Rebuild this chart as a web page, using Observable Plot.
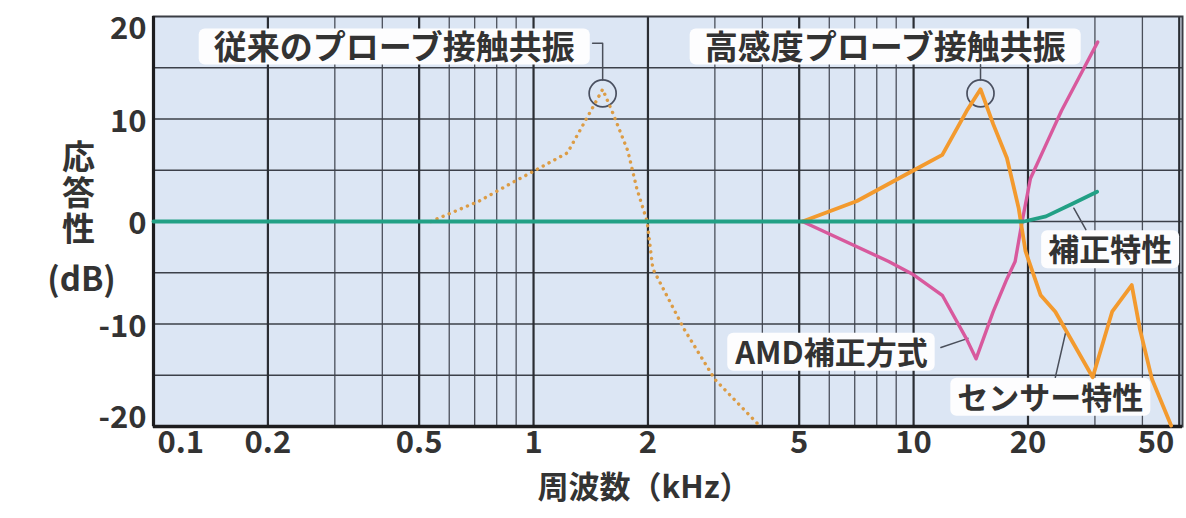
<!DOCTYPE html>
<html>
<head>
<meta charset="utf-8">
<script src="https://cdn.jsdelivr.net/npm/d3@7"></script>
<script src="https://cdn.jsdelivr.net/npm/@observablehq/plot@0.6"></script>
<style>
  html, body { margin: 0; padding: 0; background: #ffffff; }
  svg { display: block; }
</style>
</head>
<body>
<div id="chart"></div>
<script>
// ---- Axis ticks ----
const freqMajor = [0.1, 0.2, 0.5, 1, 2, 5, 10, 20, 50];
const freqLabels = ["0.1", "0.2", "0.5", "1", "2", "5", "10", "20", "50"];
const freqMinor = [0.3, 0.4, 0.6, 0.7, 0.8, 0.9, 3, 4, 6, 7, 8, 9, 30, 40];
const dbTicks = [20, 10, 0, -10, -20];
const dbLabels = ["20", "10", "0", "-10", "-20"];
const dbGrid = [-15, -10, -5, 0, 5, 10, 15];

// ---- Series ----
// 補正特性 (green)
const corrF  = [0.1, 5, 10, 19.5, 22.3, 26.1, 30.4];
const corrDb = [0, 0, 0, 0, 0.5, 1.7, 2.9];
// センサー特性 / 高感度プローブ (orange solid)
const sensF  = [5.1, 7.1, 9.9, 11.9, 13.8, 15.0, 16.2, 17.6, 18.9, 19.7, 21.6, 23.6, 29.6, 33.3, 37.5, 39.4, 42.4, 47.6];
const sensDb = [0, 2.0, 4.9, 6.5, 10.8, 12.9, 9.5, 6.2, 1.3, -2.9, -7.2, -8.8, -15.2, -8.8, -6.2, -10.5, -15.4, -19.9];
// AMD補正方式 (pink)
const amdF  = [5.1, 8.6, 10.0, 11.9, 13.8, 14.6, 16.2, 17.6, 18.5, 19.3, 20.3, 22.3, 24.5, 27.2, 30.5];
const amdDb = [0, -3.9, -5.2, -7.2, -11.5, -13.4, -8.8, -5.6, -3.9, 0, 4.2, 7.5, 10.8, 14.0, 17.5];
// 従来のプローブ接触共振 (dotted)
const convF  = [0.537, 0.72, 0.89, 1.0, 1.228, 1.43, 1.52, 1.62, 1.77, 1.87, 1.99, 2.06, 2.49, 3.0, 3.95];
const convDb = [0, 2.0, 3.9, 4.9, 6.7, 11.1, 12.9, 10.5, 6.9, 3.2, 0, -4.6, -10.5, -15.4, -20];

// ---- Annotations ----
const topLabels = ["従来のプローブ接触共振", "高感度プローブ接触共振"];
const topLabelF = [0.43, 8.42];
const topLabelDb = [16.9, 16.9];
const sideLabels = ["補正特性", "AMD補正方式", "センサー特性"];
const sideLabelF = [32.9, 6.08, 22.9];
const sideLabelDb = [-2.9, -12.9, -17.3];
const peakF = [1.52, 15.0];
const peakDb = [12.5, 12.5];
// leader lines: id, f, db
const leaderId = [0, 0, 0, 1, 1, 2, 2, 3, 3, 4, 4];
const leaderF  = [1.43, 1.52, 1.52, 15.0, 15.0, 26.4, 28.4, 11.8, 13.9, 23.6, 25.1];
const leaderDb = [17.4, 17.4, 13.8, 15.3, 13.8, 1.3, -0.8, -12.3, -11.4, -15.2, -10.9];

const rows = (fs, ds) => fs.map((f, i) => ({f, db: ds[i]}));
const font = "'Noto Sans CJK JP', 'Noto Sans', sans-serif";
const textCol = "#333333";

const xTicks = freqMajor.map((f, i) => ({f, label: freqLabels[i]}));
const yTicks = dbTicks.map((db, i) => ({db, label: dbLabels[i]}));

const plot = Plot.plot({
  width: 1186,
  height: 518,
  marginLeft: 153,
  marginRight: 4,
  marginTop: 16,
  marginBottom: 92,
  x: {type: "log", domain: [0.1, 51], axis: null},
  y: {domain: [-20, 20], axis: null},
  style: {fontFamily: font, background: "#ffffff", overflow: "visible"},
  marks: [
    Plot.frame({fill: "#dce6f4", stroke: null}),
    Plot.ruleX(freqMinor, {x: d => d, stroke: "#4a4f5a", strokeWidth: 1.3}),
    Plot.ruleY(dbGrid, {y: d => d, stroke: "#3c4049", strokeWidth: 1.6}),
    Plot.ruleX(freqMajor.slice(1, -1), {x: d => d, stroke: "#2a2d33", strokeWidth: 2.2}),
    Plot.ruleX([50], {x: d => d, stroke: "#2a2d33", strokeWidth: 2.2}),
    Plot.frame({stroke: "#3a3d44", strokeWidth: 2}),
    Plot.ruleX([0.1], {x: d => d, stroke: "#1d1d1f", strokeWidth: 3.2}),
    Plot.ruleY([-20], {y: d => d, stroke: "#1d1d1f", strokeWidth: 3.4}),

    // annotation labels (boxes added after render)
    Plot.text(rows(topLabelF, topLabelDb).map((d, i) => ({...d, t: topLabels[i]})),
      {x: "f", y: "db", text: "t", fontSize: 33, fontWeight: "bold", fill: textCol, ariaDescription: "annot-top"}),
    Plot.text(rows(sideLabelF, sideLabelDb).map((d, i) => ({...d, t: sideLabels[i]})),
      {x: "f", y: "db", text: "t", fontSize: 31, fontWeight: "bold", fill: textCol, ariaDescription: "annot-side"}),

    // leaders and circles
    Plot.line(leaderF.map((f, i) => ({f, db: leaderDb[i], id: leaderId[i]})),
      {x: "f", y: "db", z: "id", stroke: "#4a4f5a", strokeWidth: 1.5}),
    Plot.dot(rows(peakF, peakDb), {x: "f", y: "db", r: 13.5, stroke: "#4a5060", strokeWidth: 1.7, fill: "none"}),

    // data lines
    Plot.line(rows(convF, convDb), {x: "f", y: "db", stroke: "#dc9c45", strokeWidth: 3.4,
      strokeDasharray: "0.1 6.5", strokeLinecap: "round"}),
    Plot.line(rows(amdF, amdDb), {x: "f", y: "db", stroke: "#d8599d", strokeWidth: 3.4, strokeLinejoin: "round"}),
    Plot.line(rows(sensF, sensDb), {x: "f", y: "db", stroke: "#f39a2e", strokeWidth: 3.8, strokeLinejoin: "round"}),
    Plot.line(rows(corrF, corrDb), {x: "f", y: "db", stroke: "#22a085", strokeWidth: 3.8, strokeLinejoin: "round"}),

    // x tick labels
    Plot.text(xTicks.slice(0, 1), {x: "f", text: "label", frameAnchor: "bottom", dy: 26, dx: 4,
      textAnchor: "start", fontSize: 31, fontWeight: "bold", fill: textCol}),
    Plot.text(xTicks.slice(1, -1), {x: "f", text: "label", frameAnchor: "bottom", dy: 26,
      fontSize: 31, fontWeight: "bold", fill: textCol}),
    Plot.text(xTicks.slice(-1), {x: "f", text: "label", frameAnchor: "bottom", dy: 26, dx: -5,
      textAnchor: "end", fontSize: 31, fontWeight: "bold", fill: textCol}),

    // y tick labels
    Plot.text(yTicks.slice(0, 1), {y: "db", text: "label", frameAnchor: "left", dx: -7, dy: 13,
      textAnchor: "end", fontSize: 31, fontWeight: "bold", fill: textCol}),
    Plot.text(yTicks.slice(1, -1), {y: "db", text: "label", frameAnchor: "left", dx: -7, dy: 3,
      textAnchor: "end", fontSize: 31, fontWeight: "bold", fill: textCol}),
    Plot.text(yTicks.slice(-1), {y: "db", text: "label", frameAnchor: "left", dx: -7, dy: -8,
      textAnchor: "end", fontSize: 31, fontWeight: "bold", fill: textCol}),

    // axis titles
    Plot.text(["周波数（kHz）"], {frameAnchor: "bottom", dy: 71, dx: -24, text: d => d,
      fontSize: 31, fontWeight: "bold", fill: textCol}),
    Plot.text(["応\n答\n性"], {frameAnchor: "left", dx: -75, dy: -28, text: d => d, textAnchor: "middle",
      fontSize: 33, lineHeight: 1.1, fontWeight: "bold", fill: textCol}),
    Plot.text(["(dB)"], {frameAnchor: "left", dx: -72, dy: 59, text: d => d, textAnchor: "middle",
      fontSize: 33, fontWeight: "bold", fill: textCol})
  ]
});

document.getElementById("chart").appendChild(plot);

// white rounded boxes behind annotation labels
const ns = "http://www.w3.org/2000/svg";
function boxes(sel, padX, h) {
  plot.querySelectorAll(sel).forEach(t => {
    const b = t.getBBox();
    const fs = parseFloat(getComputedStyle(t).fontSize) || 32;
    const cy = b.y + b.height / 2 + fs * 0.05;
    const r = document.createElementNS(ns, "rect");
    r.setAttribute("x", b.x - padX);
    r.setAttribute("y", cy - h / 2);
    r.setAttribute("width", b.width + 2 * padX);
    r.setAttribute("height", h);
    r.setAttribute("rx", 6);
    r.setAttribute("fill", "#fdfdfe");
    r.setAttribute("stroke", "none");
    const tr = t.getAttribute("transform");
    if (tr) r.setAttribute("transform", tr);
    t.parentNode.insertBefore(r, t);
  });
}
boxes('g[aria-description="annot-top"] text', 15, 36);
boxes('g[aria-description="annot-side"] text', 7, 38);
</script>
</body>
</html>
